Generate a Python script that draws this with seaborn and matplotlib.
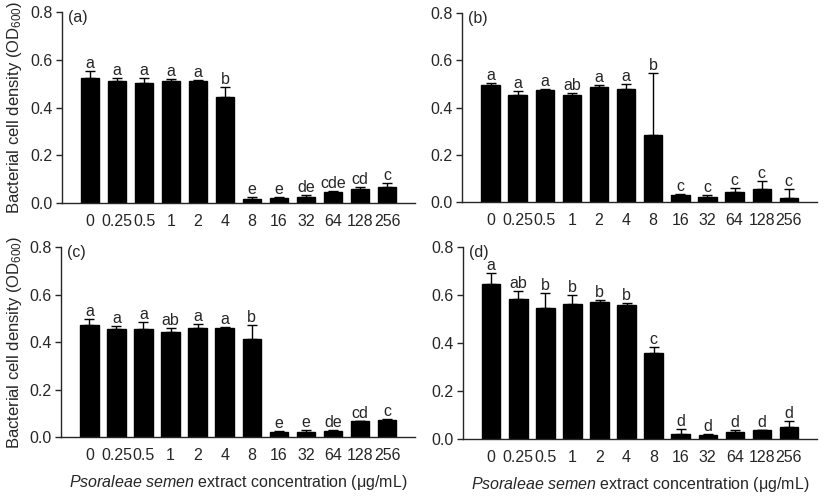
import pandas as pd
import seaborn as sns
import matplotlib.pyplot as plt
import numpy as np

# Data
conc = ['0', '0.25', '0.5', '1', '2', '4', '8', '16', '32', '64', '128', '256']

a_mean = [0.525, 0.511, 0.504, 0.513, 0.513, 0.443, 0.017, 0.021, 0.027, 0.047, 0.060, 0.067]
a_err = [0.027, 0.013, 0.019, 0.008, 0.003, 0.044, 0.007, 0.003, 0.009, 0.006, 0.006, 0.017]
a_letters = ['a', 'a', 'a', 'a', 'a', 'b', 'e', 'e', 'de', 'cde', 'cd', 'c']

b_mean = [0.494, 0.455, 0.473, 0.455, 0.486, 0.479, 0.285, 0.030, 0.024, 0.042, 0.055, 0.016]
b_err = [0.009, 0.014, 0.007, 0.008, 0.010, 0.020, 0.262, 0.004, 0.007, 0.017, 0.036, 0.041]
b_letters = ['a', 'a', 'a', 'ab', 'a', 'a', 'b', 'c', 'c', 'c', 'c', 'c']

c_mean = [0.473, 0.455, 0.456, 0.442, 0.458, 0.460, 0.411, 0.020, 0.022, 0.025, 0.067, 0.073]
c_err = [0.022, 0.012, 0.030, 0.018, 0.018, 0.003, 0.061, 0.005, 0.010, 0.003, 0.001, 0.004]
c_letters = ['a', 'a', 'a', 'ab', 'a', 'a', 'b', 'e', 'e', 'de', 'cd', 'c']

d_mean = [0.647, 0.583, 0.545, 0.562, 0.569, 0.557, 0.358, 0.021, 0.019, 0.029, 0.036, 0.050]
d_err = [0.044, 0.032, 0.063, 0.039, 0.010, 0.011, 0.027, 0.021, 0.002, 0.009, 0.002, 0.025]
d_letters = ['a', 'ab', 'b', 'b', 'b', 'b', 'c', 'd', 'd', 'd', 'd', 'd']

panels = [('(a)', a_mean, a_err, a_letters),
          ('(b)', b_mean, b_err, b_letters),
          ('(c)', c_mean, c_err, c_letters),
          ('(d)', d_mean, d_err, d_letters)]

# Style
sns.set_style('ticks')
plt.rcParams['font.family'] = ['Liberation Sans', 'DejaVu Sans']
plt.rcParams['mathtext.fontset'] = 'custom'
plt.rcParams['mathtext.rm'] = 'Liberation Sans'
plt.rcParams['mathtext.it'] = 'Liberation Sans:italic'
fs = 11.5

# Axes positions [left, bottom, width, height] in figure fraction
positions = [[0.075, 0.596, 0.427, 0.380],
             [0.559, 0.598, 0.429, 0.376],
             [0.074, 0.131, 0.428, 0.378],
             [0.560, 0.127, 0.428, 0.382]]

fig = plt.figure(figsize=(8.27, 5.03), dpi=100)
for i, (lab, mean, err, letters) in enumerate(panels):
    ax = fig.add_axes(positions[i])
    df = pd.DataFrame({'conc': conc, 'od': mean})
    sns.barplot(data=df, x='conc', y='od', color='black', saturation=1, width=0.68,
                errorbar=None, ax=ax, edgecolor='black')
    x = np.arange(len(conc))
    ax.errorbar(x, mean, yerr=[np.zeros(len(err)), err], fmt='none', ecolor='black',
                elinewidth=1, capsize=3.5, capthick=1)
    for xi, m, e, t in zip(x, mean, err, letters):
        ax.annotate(t, (xi, m + e), xytext=(0, 0), textcoords='offset points',
                    ha='center', va='bottom', fontsize=fs)
    ax.set_xlim(-1.04, 12.04)
    ax.set_ylim(0, 0.8)
    ax.set_yticks(np.arange(0, 0.81, 0.2))
    ax.set_yticklabels(['%.1f' % v for v in np.arange(0, 0.81, 0.2)], fontsize=fs)
    ax.tick_params(axis='x', length=0, labelsize=fs, pad=8)
    ax.tick_params(axis='y', length=4, width=1, pad=3)
    ax.text(0.016, 1.01, lab, transform=ax.transAxes, ha='left', va='top', fontsize=fs)
    for s in ['left', 'bottom']:
        ax.spines[s].set_linewidth(1)
    sns.despine(ax=ax)
    if i % 2 == 0:
        ax.set_ylabel('Bacterial cell density (OD$_{600}$)', fontsize=12, labelpad=4)
    else:
        ax.set_ylabel('')
    if i >= 2:
        ax.set_xlabel(r'$\it{Psoraleae\ semen}$ extract concentration (μg/mL)', fontsize=fs, labelpad=7)
    else:
        ax.set_xlabel('')

fig.savefig('out.png', dpi=100)
